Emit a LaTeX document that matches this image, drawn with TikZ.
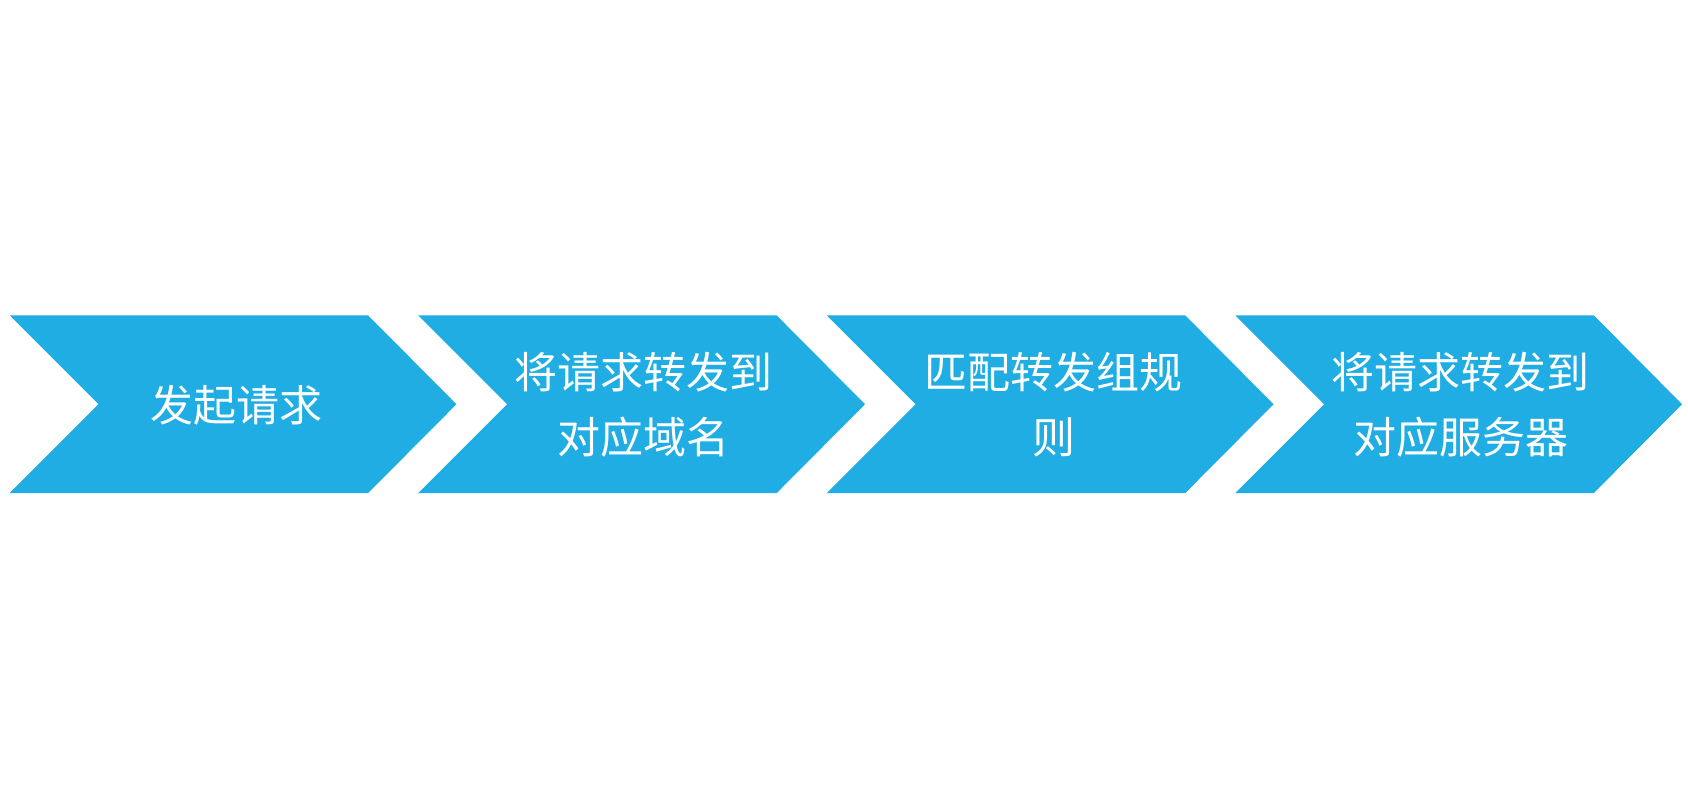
\documentclass[tikz,border=0pt]{standalone}
\usepackage{fontspec}
\newfontfamily\cjk{Noto Sans CJK SC}
\definecolor{chev}{HTML}{1FADE4}
\tikzset{
  chevron/.style={fill=chev, draw=none},
  label/.style={text=white, font=\cjk\fontsize{43}{65}\selectfont, align=center, inner sep=0pt}
}
\newcommand{\chevronat}[1]{%
  \fill[chevron] (#1,293) -- (#1+333,293) -- (#1+415,375.5) -- (#1+333,458) -- (#1,458) -- (#1+82.5,375.5) -- cycle;}
\begin{document}
\begin{tikzpicture}[x=1.07653pt,y=-1.07653pt]
\useasboundingbox (0,0) rectangle (1568,751.5);
\fill[white] (0,0) rectangle (1568,751.5);
\chevronat{9}
\chevronat{388.5}
\chevronat{768}
\chevronat{1147.5}
\node[label] (s1) at (220,376) {发起请求};
\node[label] (s2) at (598,376) {将请求转发到\\对应域名};
\node[label] (s3) at (979,376) {匹配转发组规\\则};
\node[label] (s4) at (1357,376) {将请求转发到\\对应服务器};
\end{tikzpicture}
\end{document}
